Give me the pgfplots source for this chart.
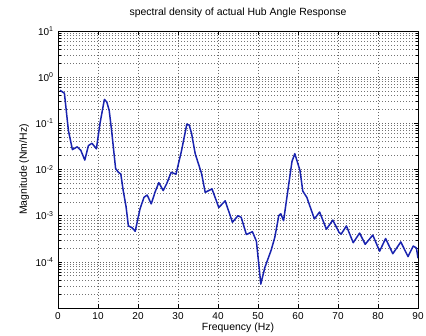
\documentclass[border=0pt]{standalone}
\usepackage{fontspec}
\setmainfont{Liberation Sans}
\usepackage{pgfplots}
\pgfplotsset{compat=1.18}
\definecolor{mblue}{RGB}{25,35,175}
\begin{document}
\begin{tikzpicture}
\begin{axis}[
  scale only axis, width=360bp, height=277bp,
  ymode=log, log basis y=10,
  xmin=0, xmax=90, ymin=1e-5, ymax=10,
  xtick={0,10,...,90},
  ytick={1e-4,1e-3,1e-2,1e-1,1,10},
  yticklabels={10\textsuperscript{-4},10\textsuperscript{-3},10\textsuperscript{-2},10\textsuperscript{-1},10\textsuperscript{0},10\textsuperscript{1}},
  minor ytick={2e-5,3e-5,4e-5,5e-5,6e-5,7e-5,8e-5,9e-5,
               2e-4,3e-4,4e-4,5e-4,6e-4,7e-4,8e-4,9e-4,
               2e-3,3e-3,4e-3,5e-3,6e-3,7e-3,8e-3,9e-3,
               2e-2,3e-2,4e-2,5e-2,6e-2,7e-2,8e-2,9e-2,
               0.2,0.3,0.4,0.5,0.6,0.7,0.8,0.9,
               2,3,4,5,6,7,8,9},
  /pgf/number format/assume math mode=true,
  xmajorgrids, ymajorgrids, yminorgrids,
  major grid style={black!60, line width=0.5bp, dash pattern=on 1bp off 2bp},
  minor grid style={black!55, line width=0.5bp, dash pattern=on 1bp off 2bp},
  tick align=inside,
  major tick length=4bp, minor tick length=2.5bp,
  tick style={black, line width=0.5bp},
  axis line style={black, line width=0.6bp},
  tick label style={font=\fontsize{10}{12}\selectfont, black},
  yticklabel style={xshift=-1bp},
  xticklabel style={yshift=-1bp},
  title={spectral density of actual Hub Angle Response},
  title style={at={(0.5,1)}, anchor=base, yshift=10bp, inner sep=0pt, font=\fontsize{10.5}{12}\selectfont},
  xlabel={Frequency (Hz)},
  xlabel style={at={(0.5,0)}, anchor=base, yshift=-22bp, inner sep=0pt, font=\fontsize{10.5}{12}\selectfont},
  ylabel={Magnitude (Nm/Hz)},
  ylabel style={at={(0,0.5)}, anchor=base, yshift=31bp, inner sep=0pt, font=\fontsize{10.5}{12}\selectfont},
]
\addplot[mblue, line width=1.5bp, line join=round] coordinates {
(0.5,0.52) (1.6,0.45) (2.6,0.07) (3.6,0.027) (4.8,0.031) (5.7,0.026)
(6.7,0.016) (7.6,0.033) (8.5,0.037) (9.6,0.028) (10.5,0.10) (11.6,0.33)
(12.2,0.29) (12.8,0.19) (13.4,0.07) (14.4,0.0105) (15.1,0.0087) (15.7,0.0080)
(16.3,0.0035) (17.0,0.0016) (17.6,0.0006) (18.5,0.00055) (19.3,0.00046)
(20.5,0.0014) (21.5,0.0025) (22.3,0.0028) (23.3,0.0018) (24.3,0.0033)
(25.2,0.0052) (26.3,0.0035) (27.2,0.0050) (28.3,0.0087) (29.5,0.0079)
(30.9,0.026) (32.2,0.096) (32.8,0.092) (33.4,0.06) (34.3,0.022)
(35.9,0.0081) (36.8,0.0032) (38.5,0.0038) (40.2,0.0015) (41.8,0.0021)
(43.6,0.00072) (45.0,0.0010) (45.8,0.00092) (47.1,0.00039) (48.6,0.00045)
(49.6,0.00028) (50.7,0.000033) (51.7,0.000075) (53.3,0.00018) (54.2,0.00034)
(55.2,0.0010) (55.7,0.0011) (56.4,0.00078) (57.9,0.0065) (58.5,0.015)
(59.2,0.022) (60.5,0.0095) (61.2,0.0034) (62.2,0.0025) (64.1,0.00085)
(65.4,0.0012) (67.1,0.00051) (68.7,0.00080) (70.3,0.00043) (70.8,0.00040)
(72.1,0.00060) (73.8,0.00026) (75.4,0.00042) (76.8,0.00024) (78.7,0.00038)
(80.4,0.00017) (81.9,0.00032) (83.7,0.00015) (85.7,0.00027) (87.5,0.00013)
(88.8,0.00022) (89.6,0.00020) (90,0.00012)
};
\end{axis}
\pgfresetboundingbox
\path[use as bounding box] ([shift={(-58bp,-27bp)}]current axis.south west) rectangle ([shift={(8bp,31bp)}]current axis.north east);
\end{tikzpicture}
\end{document}
